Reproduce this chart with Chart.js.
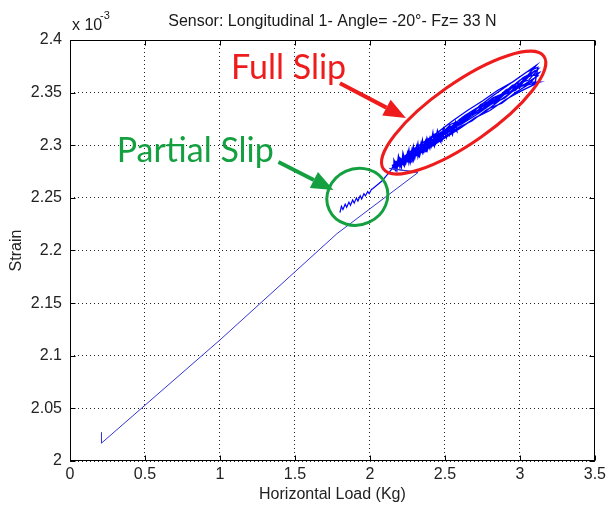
<!DOCTYPE html>
<html lang="en">
<head>
<meta charset="UTF-8">
<title>Sensor: Longitudinal 1</title>
<script src="https://cdn.jsdelivr.net/npm/chart.js"></script>
<style>
  html, body { margin: 0; padding: 0; background: #fff; }
</style>
</head>
<body>
<canvas id="strainChart" width="610" height="506"></canvas>
<script>
// strain values are in units of 1e-3 (see the "x 10^-3" label)
const xTicks = [0, 0.5, 1, 1.5, 2, 2.5, 3, 3.5];
const yTicks = [2, 2.05, 2.1, 2.15, 2.2, 2.25, 2.3, 2.35, 2.4];

// [load (Kg), strain]
const rampPts = [
  [0.21, 2.027], [0.21, 2.017], [1.00, 2.115], [1.78, 2.216], [2.32, 2.274],
  [2.13, 2.278], [2.29, 2.275], [2.20, 2.272]
];

const partialSlipPts = [
  [1.80, 2.236], [1.81, 2.242], [1.82, 2.239], [1.835, 2.244], [1.845, 2.241],
  [1.86, 2.246], [1.87, 2.243], [1.885, 2.248], [1.895, 2.245], [1.91, 2.250],
  [1.92, 2.247], [1.935, 2.252], [1.945, 2.249], [1.96, 2.254], [1.97, 2.252],
  [1.985, 2.256], [1.995, 2.254], [2.01, 2.258], [2.02, 2.259], [2.08, 2.266],
  [2.15, 2.278]
];

const fullSlipPts = [
  [2.15, 2.279], [2.17, 2.284], [2.18, 2.276], [2.19, 2.287], [2.20, 2.279],
  [2.22, 2.290], [2.23, 2.281], [2.25, 2.293], [2.26, 2.283], [2.28, 2.296],
  [2.29, 2.286], [2.31, 2.299], [2.32, 2.289], [2.34, 2.302], [2.35, 2.293],
  [2.37, 2.304], [2.38, 2.296], [2.40, 2.307], [2.41, 2.299], [2.43, 2.309],
  [2.44, 2.302], [2.46, 2.311], [2.47, 2.304], [2.45, 2.309], [2.42, 2.300],
  [2.40, 2.305], [2.37, 2.297], [2.35, 2.301], [2.32, 2.292], [2.30, 2.297],
  [2.27, 2.287], [2.25, 2.292], [2.22, 2.283], [2.20, 2.288], [2.17, 2.279],
  [2.16, 2.283],
  // cycle 1
  [2.16, 2.279], [2.20, 2.286], [2.23, 2.283], [2.27, 2.292], [2.31, 2.290],
  [2.36, 2.301], [2.41, 2.300], [2.47, 2.312], [2.55, 2.318], [2.63, 2.328],
  [2.72, 2.336], [2.82, 2.347], [2.92, 2.357], [3.02, 2.367], [3.11, 2.376],
  [3.05, 2.366], [2.96, 2.352], [2.86, 2.342], [2.76, 2.331], [2.66, 2.322],
  [2.57, 2.314], [2.49, 2.306], [2.42, 2.302], [2.37, 2.294], [2.31, 2.292],
  [2.26, 2.284], [2.21, 2.285], [2.17, 2.277],
  // cycle 2
  [2.19, 2.283], [2.24, 2.288], [2.28, 2.287], [2.33, 2.298], [2.38, 2.297],
  [2.44, 2.309], [2.52, 2.313], [2.60, 2.325], [2.70, 2.331], [2.80, 2.343],
  [2.90, 2.350], [3.00, 2.362], [3.13, 2.369], [3.06, 2.358], [2.97, 2.350],
  [2.88, 2.340], [2.78, 2.334], [2.68, 2.323], [2.59, 2.317], [2.50, 2.308],
  [2.43, 2.303], [2.36, 2.296], [2.29, 2.289], [2.22, 2.282], [2.16, 2.281],
  // cycle 3
  [2.20, 2.281], [2.25, 2.291], [2.30, 2.293], [2.35, 2.300], [2.40, 2.303],
  [2.46, 2.309], [2.54, 2.320], [2.64, 2.326], [2.74, 2.338], [2.84, 2.341],
  [2.94, 2.354], [3.04, 2.357], [3.13, 2.360], [3.08, 2.360], [2.99, 2.356],
  [2.90, 2.345], [2.81, 2.339], [2.71, 2.329], [2.61, 2.320], [2.53, 2.315],
  [2.45, 2.305], [2.39, 2.300], [2.33, 2.292], [2.27, 2.290], [2.21, 2.281],
  [2.15, 2.279],
  // cycle 4
  [2.18, 2.285], [2.23, 2.285], [2.28, 2.294], [2.34, 2.295], [2.39, 2.305],
  [2.45, 2.306], [2.53, 2.317], [2.62, 2.323], [2.71, 2.335], [2.81, 2.340],
  [2.91, 2.353], [3.01, 2.358], [3.10, 2.371], [3.03, 2.363], [2.93, 2.350],
  [2.83, 2.345], [2.73, 2.332], [2.63, 2.327], [2.54, 2.313], [2.46, 2.311],
  [2.39, 2.298], [2.32, 2.296], [2.25, 2.286], [2.18, 2.280],
  // cycle 5
  [2.22, 2.288], [2.27, 2.286], [2.32, 2.297], [2.37, 2.298], [2.43, 2.306],
  [2.50, 2.314], [2.58, 2.319], [2.67, 2.330], [2.77, 2.336], [2.87, 2.348],
  [2.97, 2.352], [3.07, 2.367], [3.12, 2.366], [3.00, 2.355], [2.89, 2.348],
  [2.79, 2.337], [2.69, 2.329], [2.60, 2.320], [2.51, 2.311], [2.44, 2.307],
  [2.38, 2.299], [2.32, 2.294], [2.26, 2.289], [2.20, 2.284], [2.16, 2.278],
  // jittery stretch low in the band
  [2.16, 2.286], [2.18, 2.280], [2.19, 2.290], [2.21, 2.279], [2.22, 2.293],
  [2.24, 2.283], [2.26, 2.296], [2.27, 2.284], [2.29, 2.299], [2.30, 2.288],
  [2.32, 2.302], [2.33, 2.291], [2.35, 2.305], [2.36, 2.294], [2.38, 2.307],
  [2.40, 2.297], [2.42, 2.312], [2.43, 2.300], [2.45, 2.314], [2.47, 2.304],
  [2.49, 2.316], [2.51, 2.307], [2.53, 2.319], [2.55, 2.310], [2.57, 2.322],
  [2.58, 2.313], [2.55, 2.318], [2.53, 2.309], [2.50, 2.314], [2.48, 2.304],
  [2.45, 2.309], [2.43, 2.299], [2.40, 2.304], [2.38, 2.294], [2.35, 2.299],
  [2.33, 2.289], [2.30, 2.295], [2.28, 2.284], [2.25, 2.290], [2.23, 2.280],
  [2.20, 2.286], [2.17, 2.276], [2.15, 2.281],
  // cycle 6
  [2.18, 2.283], [2.26, 2.293], [2.35, 2.302], [2.45, 2.312], [2.55, 2.323],
  [2.65, 2.333], [2.75, 2.342], [2.85, 2.352], [2.95, 2.360], [3.05, 2.370],
  [3.12, 2.374], [3.10, 2.358], [3.00, 2.351], [2.90, 2.343], [2.80, 2.333],
  [2.70, 2.326], [2.60, 2.316], [2.50, 2.307], [2.40, 2.298], [2.30, 2.290],
  [2.20, 2.281],
  // cycle 7
  [2.24, 2.290], [2.33, 2.296], [2.42, 2.308], [2.52, 2.315], [2.62, 2.327],
  [2.72, 2.333], [2.82, 2.345], [2.92, 2.351], [3.02, 2.364], [3.12, 2.372],
  [3.06, 2.362], [2.95, 2.357], [2.85, 2.344], [2.74, 2.339], [2.64, 2.324],
  [2.56, 2.320], [2.47, 2.307], [2.38, 2.302], [2.29, 2.291], [2.19, 2.286]
];

const titleText = 'Sensor: Longitudinal 1- Angle= -20\u00b0- Fz= 33 N';

const toXY = pts => pts.map(p => ({ x: p[0], y: p[1] }));
const sansFamily = '"Liberation Sans", Arial, sans-serif';
const tickFont = { family: sansFamily, size: 16 };

function fixedTicks(list) {
  return scale => { scale.ticks = list.map(v => ({ value: v })); };
}

function arrow(ctx, x0, y0, x1, y1, color) {
  const ang = Math.atan2(y1 - y0, x1 - x0);
  const headLen = 22, headW = 9;
  const bx = x1 - headLen * Math.cos(ang), by = y1 - headLen * Math.sin(ang);
  ctx.strokeStyle = color;
  ctx.fillStyle = color;
  ctx.lineWidth = 4;
  ctx.beginPath();
  ctx.moveTo(x0, y0);
  ctx.lineTo(bx, by);
  ctx.stroke();
  ctx.beginPath();
  ctx.moveTo(x1, y1);
  ctx.lineTo(bx - headW * Math.sin(ang), by + headW * Math.cos(ang));
  ctx.lineTo(bx + headW * Math.sin(ang), by - headW * Math.cos(ang));
  ctx.closePath();
  ctx.fill();
}

// axes box with MATLAB style inward ticks, title and 10^-3 exponent
const frame = {
  id: 'frame',
  afterDraw(chart) {
    const { ctx, chartArea: a, scales: { x, y } } = chart;
    const L = Math.round(a.left) + 0.5, R = Math.round(a.right) - 0.5;
    const T = Math.round(a.top) + 0.5, B = Math.round(a.bottom) - 0.5;
    ctx.save();
    ctx.strokeStyle = '#000';
    ctx.lineWidth = 1;
    ctx.strokeRect(L, T, R - L, B - T);
    ctx.beginPath();
    xTicks.forEach(v => {
      const px = Math.round(x.getPixelForValue(v)) + 0.5;
      ctx.moveTo(px, B); ctx.lineTo(px, B - 5);
      ctx.moveTo(px, T); ctx.lineTo(px, T + 5);
    });
    yTicks.forEach(v => {
      const py = Math.round(y.getPixelForValue(v)) + 0.5;
      ctx.moveTo(L, py); ctx.lineTo(L + 5, py);
      ctx.moveTo(R, py); ctx.lineTo(R - 5, py);
    });
    ctx.stroke();

    ctx.fillStyle = '#1a1a1a';
    ctx.font = '16px ' + sansFamily;
    ctx.textAlign = 'center';
    ctx.textBaseline = 'alphabetic';
    ctx.fillText(titleText, (a.left + a.right) / 2, 26);
    ctx.textAlign = 'left';
    ctx.font = '16px ' + sansFamily;
    ctx.fillText('x 10', 72, 30);
    ctx.font = '11px ' + sansFamily;
    ctx.fillText('-3', 100, 19);
    ctx.restore();
  }
};

// slip region callouts
const callouts = {
  id: 'callouts',
  afterDatasetsDraw(chart) {
    const { ctx, scales: { x, y } } = chart;
    const px = v => x.getPixelForValue(v), py = v => y.getPixelForValue(v);
    const red = '#ee1c1c', green = '#14a040';
    ctx.save();
    ctx.lineWidth = 3;

    ctx.strokeStyle = red;
    ctx.beginPath();
    ctx.ellipse(px(2.625), py(2.331), 98, 30, -35 * Math.PI / 180, 0, Math.PI * 2);
    ctx.stroke();

    ctx.strokeStyle = green;
    ctx.beginPath();
    ctx.ellipse(px(1.916), py(2.251), 31, 28, -25 * Math.PI / 180, 0, Math.PI * 2);
    ctx.stroke();

    arrow(ctx, px(1.80), py(2.359), px(2.24), py(2.326), red);
    arrow(ctx, px(1.39), py(2.284), px(1.757), py(2.2575), green);

    ctx.font = '34px Lato, "Noto Sans", sans-serif';
    ctx.textAlign = 'left';
    ctx.textBaseline = 'alphabetic';
    ctx.fillStyle = red;
    ctx.fillText('Full Slip', px(1.074), py(2.363));
    ctx.fillStyle = green;
    ctx.fillText('Partial Slip', px(0.3115), py(2.284));
    ctx.restore();
  }
};

const lineSet = (pts, color, width) => ({
  data: toXY(pts),
  showLine: true,
  borderColor: color,
  borderWidth: width,
  pointRadius: 0,
  fill: false
});

new Chart(document.getElementById('strainChart'), {
  type: 'scatter',
  data: {
    datasets: [
      lineSet(rampPts, '#3434d8', 1),
      lineSet(partialSlipPts, '#0000ff', 1.2),
      lineSet(fullSlipPts, '#0000ff', 1.3)
    ]
  },
  options: {
    responsive: false,
    animation: false,
    devicePixelRatio: 1,
    layout: { padding: { top: 40, right: 12, left: 0, bottom: 0 } },
    plugins: { legend: { display: false }, tooltip: { enabled: false } },
    scales: {
      x: {
        type: 'linear',
        min: 0, max: 3.5,
        afterBuildTicks: fixedTicks(xTicks),
        afterFit: s => { s.height = 45; },
        grid: { color: '#222', lineWidth: 1, drawTicks: false },
        border: { display: false, dash: [1, 3] },
        ticks: { color: '#222', font: tickFont, padding: 4, maxRotation: 0,
                 callback: v => String(v) },
        title: { display: true, text: 'Horizontal Load (Kg)', color: '#222',
                 font: { family: sansFamily, size: 16 }, padding: { bottom: 2 } }
      },
      y: {
        type: 'linear',
        min: 2, max: 2.4,
        afterBuildTicks: fixedTicks(yTicks),
        afterFit: s => { s.width = 70; },
        grid: { color: '#222', lineWidth: 1, drawTicks: false },
        border: { display: false, dash: [1, 3] },
        ticks: { color: '#222', font: tickFont, padding: 8,
                 callback: v => String(v) },
        title: { display: true, text: 'Strain', color: '#222',
                 font: { family: sansFamily, size: 16 }, padding: { top: 7 } }
      }
    }
  },
  plugins: [frame, callouts]
});
</script>
</body>
</html>
